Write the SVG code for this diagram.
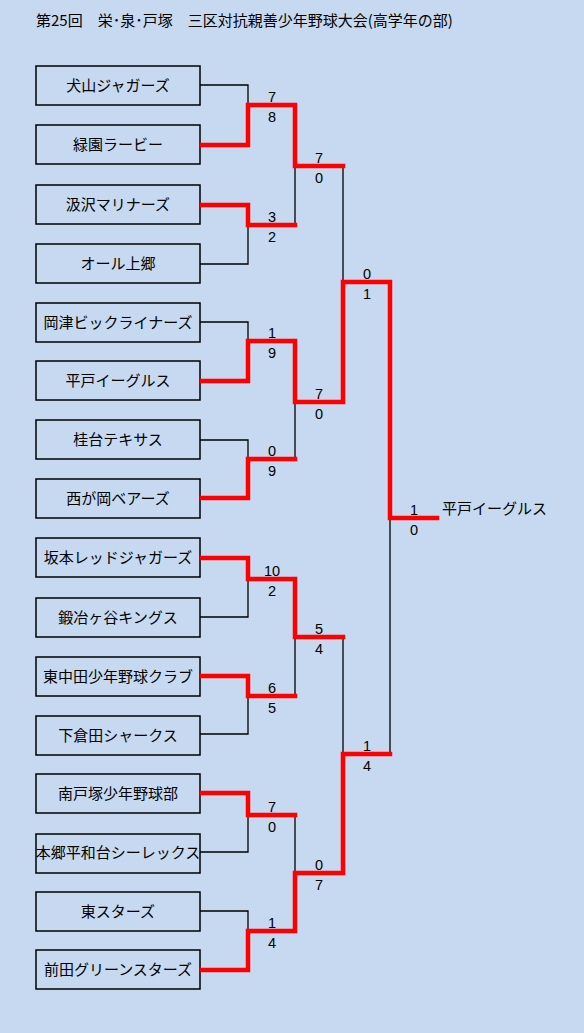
<svg xmlns="http://www.w3.org/2000/svg" width="584" height="1033" viewBox="0 0 584 1033">
<style>
.bg{fill:#c6d9f1}
.box{fill:none;stroke:#000;stroke-width:1.5}
.name{font-family:"Noto Sans CJK JP","Noto Sans",sans-serif;font-size:15px;fill:#000;text-anchor:middle}
.title{font-family:"Noto Sans CJK JP","Noto Sans",sans-serif;font-size:15px;fill:#000}
.win{font-family:"Noto Sans CJK JP","Noto Sans",sans-serif;font-size:15px;fill:#000}
.sc{font-family:"Liberation Sans",Arial,sans-serif;font-size:14.5px;fill:#000;text-anchor:middle}
.k{fill:none;stroke:#000;stroke-width:1.3}
.r{fill:none;stroke:#ff0000;stroke-width:4.5;stroke-linejoin:miter;stroke-linecap:square}
</style>
<rect class="bg" x="0" y="0" width="584" height="1033"/>
<text class="title" x="36" y="26">第25回　栄･泉･戸塚　三区対抗親善少年野球大会(高学年の部)</text>

<g id="t1"><rect class="box" x="36" y="66" width="164" height="39"/><text class="name" x="118" y="91">犬山ジャガーズ</text></g>
<g id="t2"><rect class="box" x="36" y="125" width="164" height="39"/><text class="name" x="118" y="150">緑園ラービー</text></g>
<g id="t3"><rect class="box" x="36" y="185" width="164" height="39"/><text class="name" x="118" y="210">汲沢マリナーズ</text></g>
<g id="t4"><rect class="box" x="36" y="244" width="164" height="39"/><text class="name" x="118" y="269">オール上郷</text></g>
<g id="t5"><rect class="box" x="36" y="303" width="164" height="39"/><text class="name" x="118" y="328">岡津ビックライナーズ</text></g>
<g id="t6"><rect class="box" x="36" y="361" width="164" height="39"/><text class="name" x="118" y="386">平戸イーグルス</text></g>
<g id="t7"><rect class="box" x="36" y="420" width="164" height="39"/><text class="name" x="118" y="445">桂台テキサス</text></g>
<g id="t8"><rect class="box" x="36" y="479" width="164" height="39"/><text class="name" x="118" y="504">西が岡ベアーズ</text></g>
<g id="t9"><rect class="box" x="36" y="538" width="164" height="39"/><text class="name" x="118" y="563">坂本レッドジャガーズ</text></g>
<g id="t10"><rect class="box" x="36" y="598" width="164" height="39"/><text class="name" x="118" y="623">鍛冶ヶ谷キングス</text></g>
<g id="t11"><rect class="box" x="36" y="657" width="164" height="39"/><text class="name" x="118" y="682">東中田少年野球クラブ</text></g>
<g id="t12"><rect class="box" x="36" y="716" width="164" height="39"/><text class="name" x="118" y="741">下倉田シャークス</text></g>
<g id="t13"><rect class="box" x="36" y="774" width="164" height="39"/><text class="name" x="118" y="799">南戸塚少年野球部</text></g>
<g id="t14"><rect class="box" x="36" y="834" width="164" height="39"/><text class="name" x="118" y="858">本郷平和台シーレックス</text></g>
<g id="t15"><rect class="box" x="36" y="892" width="164" height="39"/><text class="name" x="118" y="917">東スターズ</text></g>
<g id="t16"><rect class="box" x="36" y="950" width="164" height="39"/><text class="name" x="118" y="975">前田グリーンスターズ</text></g>

<g id="connectors">
<!-- black (losing) paths -->
<path class="k" d="M200 85H248V105"/>
<path class="k" d="M200 264H248V225"/>
<path class="k" d="M200 322H248V341"/>
<path class="k" d="M200 440H248V459"/>
<path class="k" d="M200 617H248V579"/>
<path class="k" d="M200 734H248V696"/>
<path class="k" d="M200 852H248V815"/>
<path class="k" d="M200 911H248V931"/>
<path class="k" d="M295 225V166"/>
<path class="k" d="M295 459V402"/>
<path class="k" d="M295 696V637"/>
<path class="k" d="M295 815V873"/>
<path class="k" d="M343 166V282"/>
<path class="k" d="M343 637V754"/>
<path class="k" d="M390 754V518"/>
<!-- red (winning) paths -->
<path class="r" d="M202 145H248V105H295V166H343"/>
<path class="r" d="M202 205H248V225H295"/>
<path class="r" d="M202 381H248V341H295V402H343V282H390V518H437"/>
<path class="r" d="M202 498H248V459H295"/>
<path class="r" d="M202 558H248V579H295V637H343"/>
<path class="r" d="M202 676H248V696H295"/>
<path class="r" d="M202 793H248V815H295"/>
<path class="r" d="M202 970H248V931H295V873H343V754H390"/>
</g>

<g id="scores">
<text class="sc" x="272" y="102">7</text><text class="sc" x="272" y="122">8</text>
<text class="sc" x="272" y="222">3</text><text class="sc" x="272" y="242">2</text>
<text class="sc" x="272" y="338">1</text><text class="sc" x="272" y="358">9</text>
<text class="sc" x="272" y="456">0</text><text class="sc" x="272" y="476">9</text>
<text class="sc" x="272" y="576">10</text><text class="sc" x="272" y="596">2</text>
<text class="sc" x="272" y="693">6</text><text class="sc" x="272" y="713">5</text>
<text class="sc" x="272" y="812">7</text><text class="sc" x="272" y="832">0</text>
<text class="sc" x="272" y="928">1</text><text class="sc" x="272" y="948">4</text>
<text class="sc" x="319" y="163">7</text><text class="sc" x="319" y="183">0</text>
<text class="sc" x="319" y="399">7</text><text class="sc" x="319" y="419">0</text>
<text class="sc" x="319" y="634">5</text><text class="sc" x="319" y="654">4</text>
<text class="sc" x="319" y="870">0</text><text class="sc" x="319" y="890">7</text>
<text class="sc" x="367" y="279">0</text><text class="sc" x="367" y="299">1</text>
<text class="sc" x="367" y="751">1</text><text class="sc" x="367" y="771">4</text>
<text class="sc" x="414" y="515">1</text><text class="sc" x="414" y="535">0</text>
</g>

<g id="champion"><text class="win" x="442" y="514">平戸イーグルス</text></g>
</svg>
